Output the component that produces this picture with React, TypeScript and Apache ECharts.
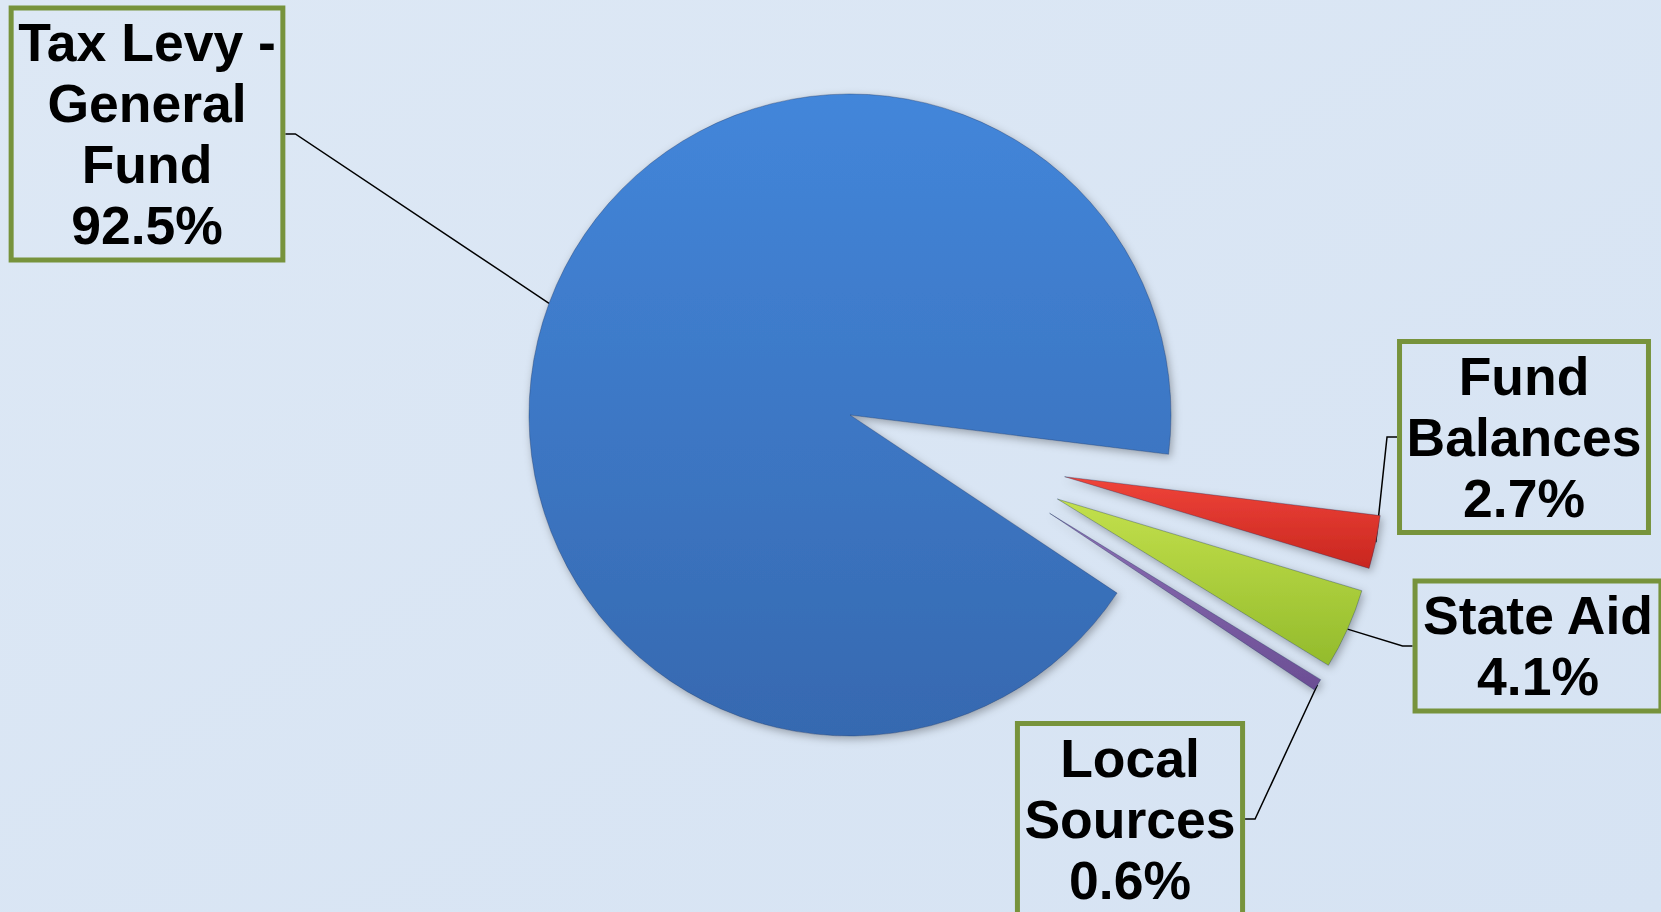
import React, { useEffect, useRef } from "react";
import * as echarts from "echarts";

// ---- data ----
const categories = ["Tax Levy -\nGeneral\nFund", "Fund\nBalances", "State Aid", "Local\nSources"];
const shares = [92.5, 2.7, 4.1, 0.6];
// which slices are pulled out from the pie (small ones)
const exploded = [false, true, true, true];

// ---- styling / layout (not data) ----
const START_ANGLE = -33.7;
const mainCenter: [number, number] = [850, 415];
const mainRadius = 321;
const explodedBase: [number, number] = [957, 454];
const explodedRadius = 318;
const explodeOffset = 110;
const topColors = ["#4386da", "#f0443a", "#c3e04c", "#8c6fb4"];
const bottomColors = ["#3669b0", "#c8261f", "#93bb2c", "#6b4e94"];
const labelCenters: [number, number][] = [
  [147, 134],
  [1524, 437],
  [1538, 646],
  [1130, 819],
];

function grad(i: number) {
  return new echarts.graphic.LinearGradient(0, 0, 0, 1, [
    { offset: 0, color: topColors[i] },
    { offset: 1, color: bottomColors[i] },
  ]);
}

const labelStyle = {
  show: true,
  position: "outside",
  formatter: (p: any) => `${p.name}\n${p.value}%`,
  fontFamily: "'Liberation Sans', Arial, sans-serif",
  fontWeight: "bold",
  fontSize: 53.5,
  lineHeight: 61,
  color: "#000",
  align: "center",
  borderColor: "#77933c",
  borderWidth: 2.5,
  padding: [4, 7],
  backgroundColor: "transparent",
};

function buildData(visibleIndex: number) {
  return categories.map((name, i) => {
    const visible = i === visibleIndex;
    return {
      name,
      value: shares[i],
      itemStyle: visible
        ? {
            color: grad(i),
            borderColor: "rgba(30,50,90,0.35)",
            borderWidth: 1,
            shadowBlur: 8,
            shadowColor: "rgba(0,0,0,0.3)",
            shadowOffsetX: 2,
            shadowOffsetY: 3,
          }
        : { color: "transparent", borderWidth: 0, shadowBlur: 0 },
      label: visible ? labelStyle : { show: false },
      labelLine: visible
        ? { show: true, length: 10, length2: 10, smooth: false, lineStyle: { color: "#000", width: 1.5 } }
        : { show: false },
    };
  });
}

const layoutFn = (params: any) => {
  const p = labelCenters[params.dataIndex];
  return { x: p[0], y: p[1], align: "center", verticalAlign: "middle" };
};

// center of each slice's own pie: pulled-out slices move along their mid angle
function sliceCenter(i: number): [number, number] {
  if (!exploded[i]) return mainCenter;
  const total = shares.reduce((a, b) => a + b, 0);
  let before = 0;
  for (let k = 0; k < i; k++) before += shares[k];
  const mid = START_ANGLE - (360 * (before + shares[i] / 2)) / total;
  const rad = (mid * Math.PI) / 180;
  return [explodedBase[0] + explodeOffset * Math.cos(rad), explodedBase[1] - explodeOffset * Math.sin(rad)];
}

export default function App() {
  const ref = useRef<HTMLDivElement>(null);
  useEffect(() => {
    document.body.style.margin = "0";
    const chart = echarts.init(ref.current!, null, { renderer: "svg" });
    const series = categories.map((_, i) => ({
      type: "pie",
      center: sliceCenter(i),
      radius: exploded[i] ? explodedRadius : mainRadius,
      startAngle: START_ANGLE,
      clockwise: true,
      avoidLabelOverlap: false,
      emphasis: { disabled: true },
      selectedMode: false,
      data: buildData(i),
      labelLayout: layoutFn,
    }));
    chart.setOption({
      animation: false,
      backgroundColor: new echarts.graphic.LinearGradient(0, 0, 1, 1, [
        { offset: 0, color: "#dde8f5" },
        { offset: 1, color: "#d6e3f3" },
      ]),
      series,
    });
    return () => chart.dispose();
  }, []);
  return <div ref={ref} style={{ position: "absolute", left: 0, top: 0, width: 1661, height: 912 }} />;
}
